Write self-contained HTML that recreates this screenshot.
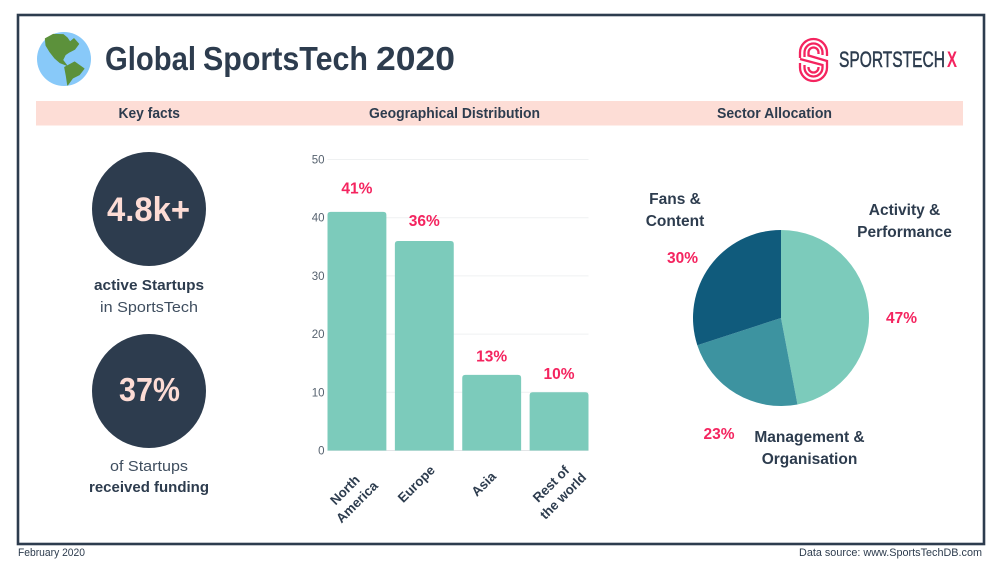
<!DOCTYPE html>
<html lang="en">
<head>
<meta charset="utf-8">
<title>Global SportsTech 2020</title>
<style>
html,body{margin:0;padding:0;background:#fff;width:1000px;height:562px;overflow:hidden}
svg{display:block}
text{font-family:"Liberation Sans",sans-serif}
.b{font-weight:700}
.dark{fill:#2d3c4e}
.pink{fill:#f4245f;font-weight:700}
</style>
</head>
<body>
<svg id="page" width="1000" height="562" viewBox="0 0 1000 562" xmlns="http://www.w3.org/2000/svg">
  <rect x="18" y="15" width="966" height="529" fill="#fff" stroke="#2d3c4e" stroke-width="2.6"/>

  <g>
    <circle cx="64" cy="59" r="27" fill="#88c9f9"/>
    <g transform="translate(20 10) scale(.3333)" fill="#5c913b" stroke="#5c913b" stroke-width="3" stroke-linejoin="round">
      <path d="M76 86 L100 73 L130 74 L142 84 L150 96 L162 86 L176 102 L164 118 L148 126 L136 134 L128 150 L140 166 L120 158 L104 144 L90 126 L78 106Z"/>
      <path d="M134 172 L164 156 L192 176 L178 194 L158 204 L143 225 L139 198Z"/>
    </g>
  </g>
  <text y="70" font-size="33" class="b dark"><tspan x="105" textLength="91" lengthAdjust="spacingAndGlyphs">Global</tspan> <tspan x="203" textLength="165" lengthAdjust="spacingAndGlyphs">SportsTech</tspan> <tspan x="376" textLength="79" lengthAdjust="spacingAndGlyphs">2020</tspan></text>

  <g>
    <g fill="none" stroke="#f4245f" stroke-width="2.3">
      <path d="M800 58V52.500a13.500 13.500 0 0 1 13.500-13.500a13.500 13.500 0 0 1 13.500 13.500V56"/>
      <path d="M804.500 57V52.500a9 9 0 0 1 9-9a9 9 0 0 1 9 9V55"/>
      <path d="M818.500 54V52.500a5 5 0 0 0-5-5a5 5 0 0 0-5 5V55.500L827 61V67.500a13.500 13.500 0 0 1-13.500 13.500a13.500 13.500 0 0 1-13.500-13.500V63"/>
      <path d="M800 59L822.500 65V67.500a9 9 0 0 1-9 9a9 9 0 0 1-9-9V65"/>
      <path d="M808.500 67V67.500a5 5 0 0 0 5 5a5 5 0 0 0 5-5V67"/>
    </g>
    <text x="839" y="67" font-size="22" textLength="106" lengthAdjust="spacingAndGlyphs" class="dark" stroke="#2d3c4e" stroke-width="0.5">SPORTSTECH</text>
    <text x="947" y="67" font-size="22" textLength="10" lengthAdjust="spacingAndGlyphs" fill="#f4245f" class="b">X</text>
  </g>

  <rect x="36" y="101" width="927" height="24.500" fill="#fdddd6"/>
  <text x="118.500" y="118" font-size="14.500" textLength="61.500" lengthAdjust="spacingAndGlyphs" class="b dark">Key facts</text>
  <text x="369" y="118" font-size="14.500" textLength="171" lengthAdjust="spacingAndGlyphs" class="b dark">Geographical Distribution</text>
  <text x="717" y="118" font-size="14.500" textLength="115" lengthAdjust="spacingAndGlyphs" class="b dark">Sector Allocation</text>

  <g>
    <circle cx="149" cy="209" r="57" fill="#2d3c4e"/>
    <text x="107" y="221" font-size="34" textLength="83" lengthAdjust="spacingAndGlyphs" fill="#fddcd5" class="b">4.8k+</text>
    <text x="94" y="290" font-size="15" textLength="110" lengthAdjust="spacingAndGlyphs" class="b dark">active Startups</text>
    <text x="100" y="312" font-size="15" textLength="98" lengthAdjust="spacingAndGlyphs" fill="#3f4e5f">in SportsTech</text>
  </g>
  <g>
    <circle cx="149" cy="391" r="57" fill="#2d3c4e"/>
    <text x="119" y="401" font-size="33" textLength="61" lengthAdjust="spacingAndGlyphs" fill="#fddcd5" class="b">37%</text>
    <text x="110" y="471" font-size="15" textLength="78" lengthAdjust="spacingAndGlyphs" fill="#3f4e5f">of Startups</text>
    <text x="89" y="492" font-size="15" textLength="120" lengthAdjust="spacingAndGlyphs" class="b dark">received funding</text>
  </g>

  <g id="bar-chart"></g>
  <g id="pie-chart"></g>

  <text x="18" y="556" font-size="11" textLength="67" lengthAdjust="spacingAndGlyphs" class="dark">February 2020</text>
  <text x="799" y="556" font-size="11" textLength="183" lengthAdjust="spacingAndGlyphs" class="dark">Data source: www.SportsTechDB.com</text>
</svg>

<script>
const barCategories = [["North", "America"], ["Europe"], ["Asia"], ["Rest of", "the world"]];
const barValues = [41, 36, 13, 10];
const barValueLabels = ["41%", "36%", "13%", "10%"];
const yTicks = [0, 10, 20, 30, 40, 50];
const pieSectors = [["Activity &", "Performance"], ["Management &", "Organisation"], ["Fans &", "Content"]];
const pieValues = [47, 23, 30];
const pieValueLabels = ["47%", "23%", "30%"];

const NS = "http://www.w3.org/2000/svg";
function make(tag, attrs, parent, txt) {
  const el = document.createElementNS(NS, tag);
  for (const k in attrs) el.setAttribute(k, attrs[k]);
  if (txt !== undefined) el.textContent = txt;
  parent.appendChild(el);
  return el;
}

/* ---------- bar chart ---------- */
const barG = document.getElementById("bar-chart");
const plotLeft = 327.5, plotRight = 588.5, plotBottom = 450.5, plotTop = 159.5, yMax = 50;
const yScale = v => plotBottom - (v / yMax) * (plotBottom - plotTop);
const step = (plotRight - plotLeft + 8.5) / barValues.length;
const barWidth = step - 8.5;
const xScale = i => plotLeft + i * step;

yTicks.forEach(t => {
  const grid = make("line", {x1: plotLeft, x2: plotRight, y1: yScale(t), y2: yScale(t), stroke: t === 0 ? "#e2e5e7" : "#eff1f2", "stroke-width": 1}, barG);
  
  
  const lab = make("text", {x: 324.5, y: yScale(t) + 4, "text-anchor": "end", "font-size": 11.5, fill: "#56626f"}, barG, String(t));
  
  
});

barValues.forEach((v, i) => {
  const x = xScale(i), y = yScale(v), r = 3, bw = barWidth;
  const d = `M${x} ${plotBottom}V${y + r}Q${x} ${y} ${x + r} ${y}H${x + bw - r}Q${x + bw} ${y} ${x + bw} ${y + r}V${plotBottom}Z`;
  const bar = make("path", {d: d, fill: "#7ccbbb"}, barG);
  
  

  const gap = v > 40 ? 18.5 : v > 30 ? 15 : 13.5;
  const valueLabel = make("text", {x: x + bw / 2, y: y - gap, "text-anchor": "middle", "font-size": 15.5, class: "pink"}, barG, barValueLabels[i]);
  
  

  const lines = barCategories[i];
  const cx = x + bw / 2;
  const longest = Math.max(...lines.map(s => s.length));
  lines.forEach((line, k) => {
    let lx = cx - 8, ly = 484;
    if (lines.length === 2) {
      const nudge = longest < 8 ? 1 : 0;
      lx = cx - 8 + k * 12 - nudge * 4;
      ly = 484 + k * 12 + nudge * 6;
    }
    const tick = make("text", {x: lx, y: ly, "text-anchor": "middle", "dominant-baseline": "central", "font-size": 13.3, class: "b dark", transform: `rotate(-45 ${lx} ${ly})`}, barG, line);
    
    
  });
});

/* ---------- pie chart ---------- */
const pieG = document.getElementById("pie-chart");
const pcx = 781, pcy = 318, pr = 88;
const pieColors = ["#7ccbbb", "#3d93a0", "#105b7c"];
const pieTotal = pieValues.reduce((a, b) => a + b, 0);
let acc = 0;
const polar = a => [pcx + pr * Math.sin(a), pcy - pr * Math.cos(a)];
pieValues.forEach((v, i) => {
  const a0 = acc / pieTotal * 2 * Math.PI;
  acc += v;
  const a1 = acc / pieTotal * 2 * Math.PI;
  const p0 = polar(a0), p1 = polar(a1);
  const large = a1 - a0 > Math.PI ? 1 : 0;
  const slice = make("path", {d: `M${pcx} ${pcy}L${p0[0]} ${p0[1]}A${pr} ${pr} 0 ${large} 1 ${p1[0]} ${p1[1]}Z`, fill: pieColors[i]}, pieG);
  
  
});

const sectorAnchors = [[904.5, 215], [809.5, 442], [675, 204]];
const pctAnchors = [[901.5, 323], [719, 439], [682.5, 263]];
pieSectors.forEach((lines, i) => {
  lines.forEach((line, k) => {
    const t = make("text", {x: sectorAnchors[i][0], y: sectorAnchors[i][1] + k * 22, "text-anchor": "middle", "font-size": 15.5, class: "b dark"}, pieG, line);
    
    
  });
  const p = make("text", {x: pctAnchors[i][0], y: pctAnchors[i][1], "text-anchor": "middle", "font-size": 15.5, class: "pink"}, pieG, pieValueLabels[i]);
  
  
});
</script>
</body>
</html>
